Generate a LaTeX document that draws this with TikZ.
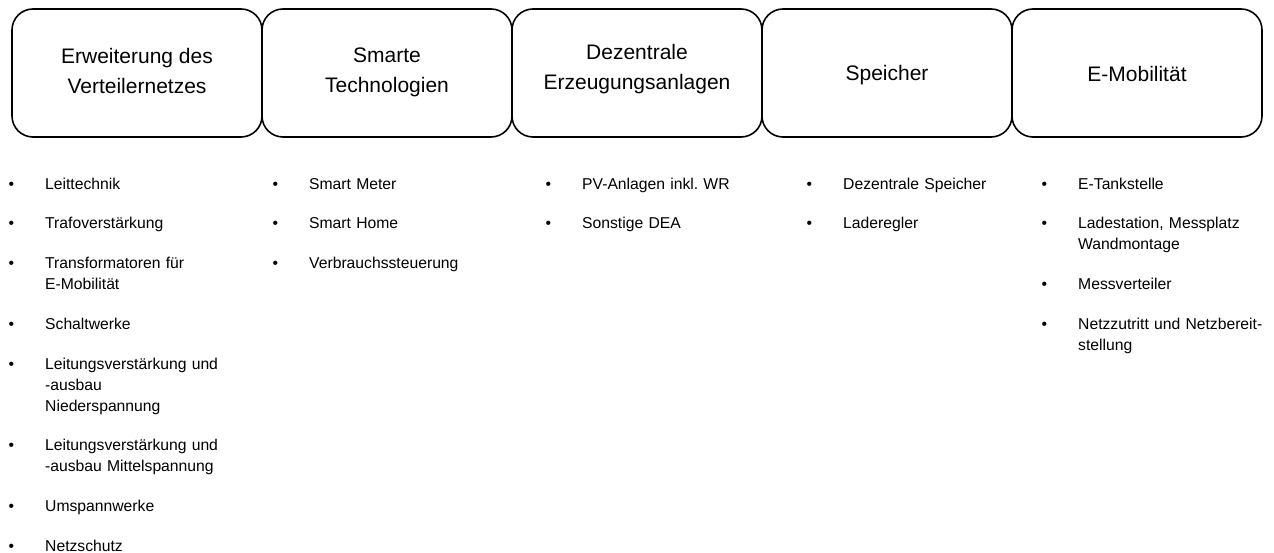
\documentclass[tikz,border=0pt]{standalone}
\usepackage{fontspec}
\setmainfont{Liberation Sans}
\usetikzlibrary{chains,positioning}

\newcommand{\catfont}{\fontsize{21}{30}\selectfont}
\newcommand{\listfont}{\fontsize{15.7}{21}\selectfont}

\begin{document}
\begin{tikzpicture}[
	cat/.style={
		draw, line width=1.6pt, rounded corners=21pt,
		minimum width=250pt, minimum height=128pt,
		align=center, font=\catfont, inner sep=0pt, outer sep=0pt,
		execute at begin node={\rule{0pt}{20pt}},
		execute at end node={\rule[-#1]{0pt}{#1}},
		on chain
	},
	cat/.default=5pt,
	item/.style={
		text width=185pt, align=left, inner sep=0pt,
		font=\listfont, on chain,
		execute at begin node={\strut\llap{\textbullet\hspace{31pt}}},
		execute at end node={\strut}
	}
	]
	\useasboundingbox (0,0) rectangle (1274pt,-553pt);

	% Kategorien
	\begin{scope}[start chain=going right, node distance=0pt]
		\node[cat] (netz) at (137pt,-73pt) {Erweiterung des\\Verteilernetzes};
		\node[cat] (smart) {Smarte\\Technologien};
		\node[cat=13pt] (dea) {Dezentrale\\Erzeugungsanlagen};
		\node[cat=2pt] (speicher) {Speicher};
		\node[cat=2pt] (emob) {E-Mobilität};
	\end{scope}

	% Erweiterung des Verteilernetzes
	\begin{scope}[start chain=going below, node distance=18.3pt]
		\node[item, anchor=north west] (n1) at (45pt,-174.3pt) {Leittechnik};
		\node[item] (n2) {Trafoverstärkung};
		\node[item] (n3) {Transformatoren für\\E-Mobilität};
		\node[item] (n4) {Schaltwerke};
		\node[item] (n5) {Leitungsverstärkung und\\-ausbau\\Niederspannung};
		\node[item] (n6) {Leitungsverstärkung und\\-ausbau Mittelspannung};
		\node[item] (n7) {Umspannwerke};
		\node[item] (n8) {Netzschutz};
	\end{scope}

	% Smarte Technologien
	\begin{scope}[start chain=going below, node distance=18.3pt]
		\node[item, anchor=north west] (s1) at (309pt,-174.3pt) {Smart Meter};
		\node[item] (s2) {Smart Home};
		\node[item] (s3) {Verbrauchssteuerung};
	\end{scope}

	% Dezentrale Erzeugungsanlagen
	\begin{scope}[start chain=going below, node distance=18.3pt]
		\node[item, anchor=north west] (d1) at (582pt,-174.3pt) {PV-Anlagen inkl.\ WR};
		\node[item] (d2) {Sonstige DEA};
	\end{scope}

	% Speicher
	\begin{scope}[start chain=going below, node distance=18.3pt]
		\node[item, anchor=north west] (p1) at (843pt,-174.3pt) {Dezentrale Speicher};
		\node[item] (p2) {Laderegler};
	\end{scope}

	% E-Mobilitaet
	\begin{scope}[start chain=going below, node distance=18.3pt]
		\node[item, anchor=north west] (e1) at (1078pt,-174.3pt) {E-Tankstelle};
		\node[item] (e2) {Ladestation, Messplatz\\Wandmontage};
		\node[item] (e3) {Messverteiler};
		\node[item] (e4) {Netzzutritt und Netzbereit-\\stellung};
	\end{scope}
\end{tikzpicture}
\end{document}
